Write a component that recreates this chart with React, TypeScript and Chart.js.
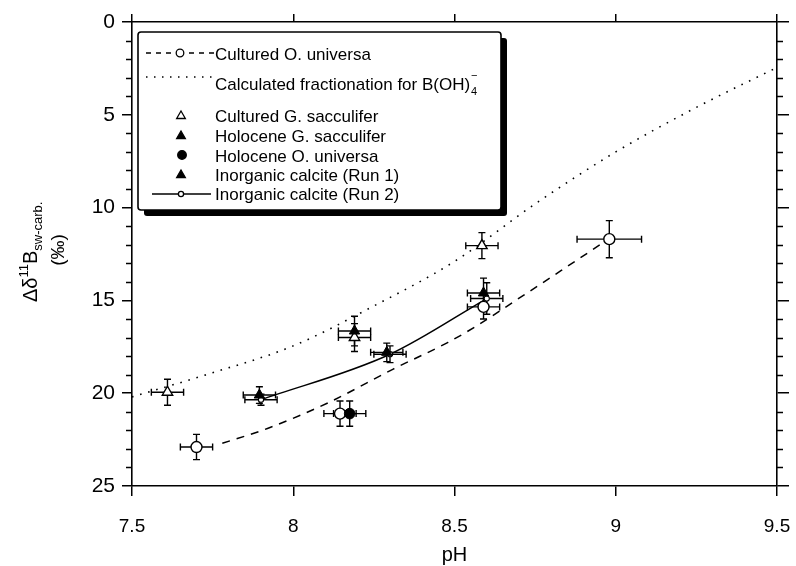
import React, { useEffect, useRef } from "react";
import { Chart, registerables } from "chart.js";
import { drawPoint } from "chart.js/helpers";

Chart.register(...registerables);

const FONT = "'Liberation Sans', Arial, Helvetica, sans-serif";

// ---- axes ----
const xMin = 7.5;
const xMax = 9.5;
const xStep = 0.5;
const xTickValues = [7.5, 8, 8.5, 9, 9.5];
const xTickLabels = ["7.5", "8", "8.5", "9", "9.5"];
const yMin = 0;
const yMax = 25;
const yStep = 5;
const yMinorStep = 1;
const yTickValues = [0, 5, 10, 15, 20, 25];
const yTickLabels = ["0", "5", "10", "15", "20", "25"];
const xTitle = "pH";

// ---- Cultured O. universa (open circles) ----
const cultOuniPH = [7.7, 8.145, 8.59, 8.98];
const cultOuniD = [22.9, 21.1, 15.35, 11.7];
const cultOuniPHErr = [0.05, 0.05, 0.05, 0.1];
const cultOuniDErr = [0.68, 0.68, 0.65, 1.0];
// dashed fit through cultured O. universa
const cultOuniFitPH = [7.78, 7.92, 8.11, 8.31, 8.48, 8.57, 8.69, 8.83, 8.96];
const cultOuniFitD = [22.7, 21.9, 20.5, 18.7, 17.26, 16.36, 15.0, 13.4, 11.9];

// ---- Calculated fractionation for B(OH)4- (dotted) ----
const calcPH = [7.5, 7.75, 8.0, 8.25, 8.5, 8.75, 9.0, 9.25, 9.5];
const calcD = [20.2, 18.9, 17.45, 15.3, 12.9, 9.8, 7.0, 4.6, 2.45];

// ---- Cultured G. sacculifer (open triangles) ----
const cultGsacPH = [7.61, 8.19, 8.585];
const cultGsacD = [19.95, 17.0, 12.05];
const cultGsacPHErr = [0.05, 0.05, 0.05];
const cultGsacDErr = [0.7, 0.75, 0.7];

// ---- Holocene G. sacculifer (filled triangles) ----
const holoGsacPH = [8.19];
const holoGsacD = [16.65];
const holoGsacPHErr = [0.05];
const holoGsacDErr = [0.8];

// ---- Holocene O. universa (filled circles) ----
const holoOuniPH = [8.175];
const holoOuniD = [21.1];
const holoOuniPHErr = [0.05];
const holoOuniDErr = [0.68];

// ---- Inorganic calcite (Run 1) (filled triangles) ----
const run1PH = [7.895, 8.29, 8.59];
const run1D = [20.1, 17.8, 14.6];
const run1PHErr = [0.05, 0.05, 0.05];
const run1DErr = [0.45, 0.5, 0.8];

// ---- Inorganic calcite (Run 2) (small circles + solid line) ----
const run2PH = [7.9, 8.3, 8.6];
const run2D = [20.35, 17.9, 14.9];
const run2PHErr = [0.05, 0.05, 0.05];
const run2DErr = [0.3, 0.45, 0.85];

const legendLabels = [
  "Cultured O. universa",
  "Calculated fractionation for B(OH)",
  "Cultured G. sacculifer",
  "Holocene G. sacculifer",
  "Holocene O. universa",
  "Inorganic calcite (Run 1)",
  "Inorganic calcite (Run 2)",
];

const pts = (xs: number[], ys: number[]) => xs.map((x, i) => ({ x, y: ys[i] }));

const W = 796;
const H = 566;
const AREA = { left: 132, right: 777, top: 22, bottom: 486 };

const labelFor = (values: number[], labels: string[], v: number) => {
  const i = values.findIndex((t) => Math.abs(t - v) < 1e-9);
  return i >= 0 ? labels[i] : "";
};

const errorBarPlugin = {
  id: "errorBars",
  beforeDatasetsDraw(chart: any) {
    const { ctx } = chart;
    const xs = chart.scales.x;
    const ys = chart.scales.y;
    const cap = 3.5;
    ctx.save();
    ctx.strokeStyle = "#000";
    ctx.lineWidth = 1.4;
    chart.data.datasets.forEach((ds: any) => {
      if (!ds.errX) return;
      ds.data.forEach((p: any, i: number) => {
        const px = xs.getPixelForValue(p.x);
        const py = ys.getPixelForValue(p.y);
        const x1 = xs.getPixelForValue(p.x - ds.errX[i]);
        const x2 = xs.getPixelForValue(p.x + ds.errX[i]);
        const y1 = ys.getPixelForValue(p.y - ds.errY[i]);
        const y2 = ys.getPixelForValue(p.y + ds.errY[i]);
        ctx.beginPath();
        ctx.moveTo(x1, py);
        ctx.lineTo(x2, py);
        ctx.moveTo(x1, py - cap);
        ctx.lineTo(x1, py + cap);
        ctx.moveTo(x2, py - cap);
        ctx.lineTo(x2, py + cap);
        ctx.moveTo(px, y1);
        ctx.lineTo(px, y2);
        ctx.moveTo(px - cap, y1);
        ctx.lineTo(px + cap, y1);
        ctx.moveTo(px - cap, y2);
        ctx.lineTo(px + cap, y2);
        ctx.stroke();
      });
    });
    ctx.restore();
  },
};

const minorTickPlugin = {
  id: "minorTicks",
  afterDraw(chart: any) {
    const { ctx } = chart;
    const ys = chart.scales.y;
    const xL = chart.chartArea.left;
    const xR = chart.chartArea.right;
    ctx.save();
    ctx.strokeStyle = "#000";
    ctx.lineWidth = 1.4;
    ctx.beginPath();
    for (let v = yMin; v <= yMax; v += yMinorStep) {
      if (v % yStep === 0) continue;
      const py = Math.round(ys.getPixelForValue(v)) + 0.5;
      ctx.moveTo(xL - 6, py);
      ctx.lineTo(xL, py);
      ctx.moveTo(xR, py);
      ctx.lineTo(xR + 6, py);
    }
    ctx.stroke();
    ctx.restore();
  },
};

const titlesPlugin = {
  id: "titles",
  afterDraw(chart: any) {
    const { ctx, chartArea } = chart;
    ctx.save();
    ctx.fillStyle = "#000";
    // x title
    ctx.font = `20px ${FONT}`;
    ctx.textAlign = "center";
    ctx.textBaseline = "alphabetic";
    ctx.fillText(xTitle, (chartArea.left + chartArea.right) / 2, 561);
    // y title (rotated)
    ctx.translate(37, 302);
    ctx.rotate(-Math.PI / 2);
    ctx.textAlign = "left";
    let u = 0;
    ctx.font = `20px ${FONT}`;
    ctx.fillText("\u0394\u03b4", u, 0);
    u += ctx.measureText("\u0394\u03b4").width;
    ctx.font = `13px ${FONT}`;
    ctx.fillText("11", u, -9);
    u += ctx.measureText("11").width;
    ctx.font = `20px ${FONT}`;
    ctx.fillText("B", u, 0);
    u += ctx.measureText("B").width;
    ctx.font = `13px ${FONT}`;
    ctx.fillText("sw-carb.", u, 5);
    ctx.font = `19px ${FONT}`;
    ctx.textAlign = "center";
    ctx.fillText("(\u2030)", 52, 27);
    ctx.restore();
  },
};

function roundRectPath(ctx: CanvasRenderingContext2D, x: number, y: number, w: number, h: number, r: number) {
  ctx.beginPath();
  ctx.moveTo(x + r, y);
  ctx.lineTo(x + w - r, y);
  ctx.quadraticCurveTo(x + w, y, x + w, y + r);
  ctx.lineTo(x + w, y + h - r);
  ctx.quadraticCurveTo(x + w, y + h, x + w - r, y + h);
  ctx.lineTo(x + r, y + h);
  ctx.quadraticCurveTo(x, y + h, x, y + h - r);
  ctx.lineTo(x, y + r);
  ctx.quadraticCurveTo(x, y, x + r, y);
  ctx.closePath();
}

const legendPlugin = {
  id: "boxLegend",
  afterDraw(chart: any) {
    const ctx: CanvasRenderingContext2D = chart.ctx;
    const bx = 138, by = 32, bw = 363, bh = 178, sh = 6;
    ctx.save();
    ctx.fillStyle = "#000";
    roundRectPath(ctx, bx + sh, by + sh, bw, bh, 3);
    ctx.fill();
    ctx.fillStyle = "#fff";
    roundRectPath(ctx, bx, by, bw, bh, 3);
    ctx.fill();
    ctx.lineWidth = 1.6;
    ctx.strokeStyle = "#000";
    ctx.stroke();

    const tx = 215;
    const symX = 181;
    const baselines = [59.5, 90, 121.7, 141.7, 161.7, 180.5, 200];
    const symY = [53, 77, 116, 136, 155, 175, 194];

    ctx.fillStyle = "#000";
    ctx.font = `17px ${FONT}`;
    ctx.textAlign = "left";
    ctx.textBaseline = "alphabetic";
    legendLabels.forEach((t, i) => ctx.fillText(t, tx, baselines[i]));
    // subscript / superscript for B(OH)4-
    const w2 = ctx.measureText(legendLabels[1]).width;
    ctx.font = `11px ${FONT}`;
    ctx.fillText("4", tx + w2 + 1, baselines[1] + 5);
    ctx.fillText("\u2212", tx + w2 + 1, baselines[1] - 11);

    ctx.strokeStyle = "#000";
    ctx.lineWidth = 1.3;
    // row 1: dashed line with open circle
    ctx.setLineDash([5, 5]);
    ctx.beginPath();
    ctx.moveTo(146, symY[0]);
    ctx.lineTo(173, symY[0]);
    ctx.moveTo(189, symY[0]);
    ctx.lineTo(214, symY[0]);
    ctx.stroke();
    ctx.setLineDash([]);
    ctx.fillStyle = "#fff";
    drawPoint(ctx, { pointStyle: "circle", radius: 3.8, rotation: 0, borderWidth: 1.2 } as any, symX - 1, symY[0]);
    // row 2: dotted line
    ctx.setLineDash([1.5, 6.5]);
    ctx.beginPath();
    ctx.moveTo(146, symY[1]);
    ctx.lineTo(214, symY[1]);
    ctx.stroke();
    ctx.setLineDash([]);
    // row 3: open triangle
    ctx.fillStyle = "#fff";
    drawPoint(ctx, { pointStyle: "triangle", radius: 5, rotation: 0, borderWidth: 1.3 } as any, symX, symY[2]);
    // row 4: filled triangle
    ctx.fillStyle = "#000";
    drawPoint(ctx, { pointStyle: "triangle", radius: 5, rotation: 0, borderWidth: 1.3 } as any, symX, symY[3]);
    // row 5: filled circle
    drawPoint(ctx, { pointStyle: "circle", radius: 4.3, rotation: 0, borderWidth: 1 } as any, symX + 1, symY[4]);
    // row 6: filled triangle
    drawPoint(ctx, { pointStyle: "triangle", radius: 5, rotation: 0, borderWidth: 1.3 } as any, symX, symY[5]);
    // row 7: solid line with small circle
    ctx.beginPath();
    ctx.moveTo(152, symY[6]);
    ctx.lineTo(211, symY[6]);
    ctx.stroke();
    ctx.fillStyle = "#fff";
    drawPoint(ctx, { pointStyle: "circle", radius: 2.6, rotation: 0, borderWidth: 1.1 } as any, symX, symY[6]);
    ctx.restore();
  },
};

const zeroPad = (s: any) => {
  s.paddingLeft = 0;
  s.paddingRight = 0;
  s.paddingTop = 0;
  s.paddingBottom = 0;
};

export default function App() {
  const canvasRef = useRef<HTMLCanvasElement | null>(null);

  useEffect(() => {
    const canvas = canvasRef.current;
    if (!canvas) return;

    const gridBase = {
      drawOnChartArea: false,
      drawTicks: true,
      color: "#000",
      lineWidth: 1.5,
    };
    const border = { display: true, color: "#000", width: 1.6 };

    const chart = new Chart(canvas, {
      type: "scatter",
      data: {
        datasets: [
          {
            label: "Inorganic calcite (Run 1)",
            data: pts(run1PH, run1D),
            errX: run1PHErr,
            errY: run1DErr,
            pointStyle: "triangle",
            pointRadius: 6,
            pointBackgroundColor: "#000",
            pointBorderColor: "#000",
            pointBorderWidth: 1,
            showLine: false,
          } as any,
          {
            label: "Holocene G. sacculifer",
            data: pts(holoGsacPH, holoGsacD),
            errX: holoGsacPHErr,
            errY: holoGsacDErr,
            pointStyle: "triangle",
            pointRadius: 6,
            pointBackgroundColor: "#000",
            pointBorderColor: "#000",
            pointBorderWidth: 1,
            showLine: false,
          } as any,
          {
            label: "Holocene O. universa",
            data: pts(holoOuniPH, holoOuniD),
            errX: holoOuniPHErr,
            errY: holoOuniDErr,
            pointStyle: "circle",
            pointRadius: 5.3,
            pointBackgroundColor: "#000",
            pointBorderColor: "#000",
            pointBorderWidth: 1,
            showLine: false,
          } as any,
          {
            label: "Cultured G. sacculifer",
            data: pts(cultGsacPH, cultGsacD),
            errX: cultGsacPHErr,
            errY: cultGsacDErr,
            pointStyle: "triangle",
            pointRadius: 6,
            pointBackgroundColor: "#fff",
            pointBorderColor: "#000",
            pointBorderWidth: 1.4,
            showLine: false,
          } as any,
          {
            label: "Cultured O. universa",
            data: pts(cultOuniPH, cultOuniD),
            errX: cultOuniPHErr,
            errY: cultOuniDErr,
            pointStyle: "circle",
            pointRadius: 5.5,
            pointBackgroundColor: "#fff",
            pointBorderColor: "#000",
            pointBorderWidth: 1.4,
            showLine: false,
          } as any,
          {
            label: "Inorganic calcite (Run 2)",
            data: pts(run2PH, run2D),
            errX: run2PHErr,
            errY: run2DErr,
            pointStyle: "circle",
            pointRadius: 2.6,
            pointBackgroundColor: "#fff",
            pointBorderColor: "#000",
            pointBorderWidth: 1.1,
            showLine: true,
            borderColor: "#000",
            borderWidth: 1.5,
            cubicInterpolationMode: "monotone",
          } as any,
          {
            label: "Cultured O. universa fit",
            data: pts(cultOuniFitPH, cultOuniFitD),
            showLine: true,
            pointRadius: 0,
            borderColor: "#000",
            borderWidth: 1.5,
            borderDash: [8, 7],
            cubicInterpolationMode: "monotone",
          } as any,
          {
            label: "Calculated fractionation for B(OH)4-",
            data: pts(calcPH, calcD),
            showLine: true,
            pointRadius: 0,
            borderColor: "#000",
            borderWidth: 1.6,
            borderDash: [1.6, 6.8],
            cubicInterpolationMode: "monotone",
          } as any,
        ],
      },
      options: {
        animation: false,
        responsive: false,
        devicePixelRatio: 1,
        layout: { padding: 0, autoPadding: false } as any,
        plugins: {
          legend: { display: false },
          tooltip: { enabled: false },
          title: { display: false },
        },
        events: [],
        scales: {
          x: {
            type: "linear",
            position: "bottom",
            min: xMin,
            max: xMax,
            border,
            grid: { ...gridBase, tickLength: 10 },
            ticks: {
              stepSize: xStep,
              autoSkip: false,
              maxRotation: 0,
              color: "#000",
              padding: 19,
              font: { family: FONT, size: 19 },
              callback: (v: any) => labelFor(xTickValues, xTickLabels, Number(v)),
            },
            afterFit: (s: any) => {
              s.height = H - AREA.bottom;
              zeroPad(s);
            },
          },
          x2: {
            type: "linear",
            position: "top",
            min: xMin,
            max: xMax,
            border,
            grid: { ...gridBase, tickLength: 8 },
            ticks: { stepSize: xStep, display: false },
            afterFit: (s: any) => {
              s.height = AREA.top;
              zeroPad(s);
            },
          },
          y: {
            type: "linear",
            position: "left",
            reverse: true,
            min: yMin,
            max: yMax,
            border,
            grid: { ...gridBase, tickLength: 10 },
            ticks: {
              stepSize: yStep,
              color: "#000",
              padding: 7,
              font: { family: FONT, size: 21 },
              callback: (v: any) => labelFor(yTickValues, yTickLabels, Number(v)),
            },
            afterFit: (s: any) => {
              s.width = AREA.left;
              zeroPad(s);
            },
          },
          y2: {
            type: "linear",
            position: "right",
            reverse: true,
            min: yMin,
            max: yMax,
            border,
            grid: { ...gridBase, tickLength: 12 },
            ticks: { stepSize: yStep, display: false },
            afterFit: (s: any) => {
              s.width = W - AREA.right;
              zeroPad(s);
            },
          },
        } as any,
      },
      plugins: [errorBarPlugin, minorTickPlugin, titlesPlugin, legendPlugin],
    });

    return () => {
      chart.destroy();
    };
  }, []);

  return (
    <div style={{ position: "absolute", left: 0, top: 0, width: W, height: H, background: "#fff" }}>
      <canvas ref={canvasRef} width={W} height={H} style={{ display: "block", width: W, height: H }} />
    </div>
  );
}
